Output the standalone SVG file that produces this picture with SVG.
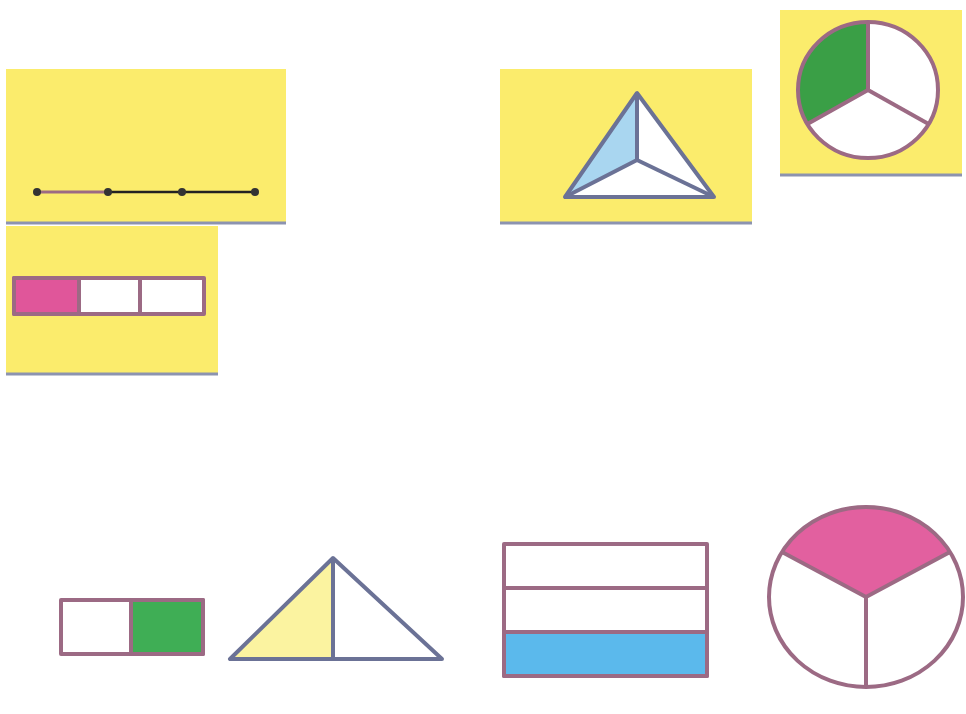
<svg xmlns="http://www.w3.org/2000/svg" width="966" height="714" viewBox="0 0 966 714">
<style>
.panel{fill:#fbec6c}
.edge{stroke:#8c93b0;stroke-width:3}
.mauve{stroke:#9c6a84;stroke-width:4;stroke-linejoin:round}
.slate{stroke:#6b7296;stroke-width:4;stroke-linejoin:round}
</style>
<rect width="966" height="714" fill="#ffffff"/>
<g id="panel-segment">
<rect class="panel" x="6" y="69" width="280" height="155"/>
<line class="edge" x1="6" y1="223" x2="286" y2="223"/>
<line x1="37" y1="192" x2="108" y2="192" stroke="#9c6a84" stroke-width="3"/>
<line x1="108" y1="192" x2="255" y2="192" stroke="#222" stroke-width="2.5"/>
<g fill="#333"><circle cx="37" cy="192" r="4"/><circle cx="108" cy="192" r="4"/><circle cx="182" cy="192" r="4"/><circle cx="255" cy="192" r="4"/></g>
</g>
<g id="panel-bar">
<rect class="panel" x="6" y="226" width="212" height="149"/>
<line class="edge" x1="6" y1="374" x2="218" y2="374"/>
<rect x="14" y="278" width="190" height="36" fill="#ffffff" class="mauve"/>
<rect x="14" y="278" width="65" height="36" fill="#e0569a" class="mauve"/>
<line class="mauve" x1="140" y1="278" x2="140" y2="314"/>
</g>
<g id="panel-triangle">
<rect class="panel" x="500" y="69" width="252" height="155"/>
<line class="edge" x1="500" y1="223" x2="752" y2="223"/>
<polygon points="637,93 565,197 714,197" fill="#ffffff"/>
<polygon points="637,93 565,197 637,160" fill="#a9d6f0"/>
<polygon class="slate" points="637,93 565,197 714,197" fill="none"/>
<polyline class="slate" points="637,93 637,160 565,197" fill="none"/>
<line class="slate" x1="637" y1="160" x2="714" y2="197"/>
</g>
<g id="panel-circle">
<rect class="panel" x="780" y="10" width="182" height="166"/>
<line class="edge" x1="780" y1="175" x2="962" y2="175"/>
<ellipse cx="868" cy="90" rx="70" ry="68" fill="#ffffff"/>
<path d="M868,90 L868,22 A70,68 0 0 0 807.4,124 Z" fill="#3a9f46"/>
<ellipse cx="868" cy="90" rx="70" ry="68" fill="none" class="mauve"/>
<polyline class="mauve" points="868,22 868,90 807.4,124" fill="none"/>
<line class="mauve" x1="868" y1="90" x2="928.6" y2="124"/>
</g>
<g id="bottom-halves">
<rect x="61" y="600" width="142" height="54" fill="#ffffff" class="mauve"/>
<rect x="131" y="600" width="72" height="54" fill="#3fae55" class="mauve"/>
</g>
<g id="bottom-triangle">
<polygon points="333,558 230,659 442,659" fill="#ffffff"/>
<polygon points="333,558 230,659 333,659" fill="#fbf3a0"/>
<polygon class="slate" points="333,558 230,659 442,659" fill="none"/>
<line class="slate" x1="333" y1="558" x2="333" y2="659"/>
</g>
<g id="bottom-stack">
<rect x="504" y="544" width="203" height="132" fill="#ffffff" class="mauve"/>
<rect x="504" y="632" width="203" height="44" fill="#5bb9ec" class="mauve"/>
<line class="mauve" x1="504" y1="588" x2="707" y2="588"/>
</g>
<g id="bottom-circle">
<ellipse cx="866" cy="597" rx="97" ry="90" fill="#ffffff"/>
<path d="M866,597 L782,552 A97,90 0 0 1 950,552 Z" fill="#e2609f"/>
<ellipse cx="866" cy="597" rx="97" ry="90" fill="none" class="mauve"/>
<polyline class="mauve" points="782,552 866,597 950,552" fill="none"/>
<line class="mauve" x1="866" y1="597" x2="866" y2="687"/>
</g>
</svg>
